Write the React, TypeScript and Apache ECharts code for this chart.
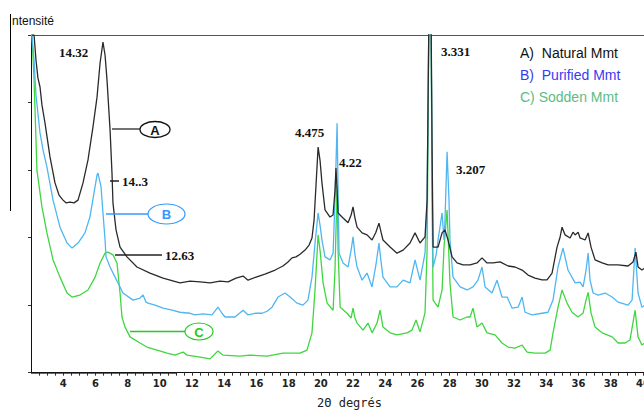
import React, { useEffect, useRef } from "react";
import * as echarts from "echarts";

// 2θ (degrees) vs. relative intensity for the three montmorillonite samples
const naturalMmt: [number, number][] = [
  [2.06, 100], [2.19, 100], [2.31, 92.6], [2.43, 87.3], [2.56, 84.6], [2.68, 79.3], [2.87, 73.9],
  [3.18, 63.9], [3.49, 56.2], [3.74, 52.6], [3.99, 51.1], [4.17, 50.3], [4.42, 50.5], [4.67, 50.3],
  [4.92, 51.1], [5.23, 56.2], [5.54, 63.0], [5.85, 72.8], [6.1, 81.6], [6.29, 91.7], [6.47, 97.9],
  [6.6, 94.0], [6.72, 86.7], [6.91, 71.9], [7.03, 59.1], [7.09, 50.3], [7.28, 42.3], [7.53, 37.2],
  [7.96, 34.3], [8.58, 31.3], [9.39, 29.5], [10.2, 28.0], [11.25, 26.6], [11.88, 27.1], [12.5, 26.9],
  [13.12, 26.6], [13.74, 27.1], [14.24, 26.9], [14.73, 28.0], [15.17, 28.6], [15.48, 27.4],
  [15.98, 28.3], [16.53, 29.2], [17.16, 30.4], [17.65, 31.6], [17.96, 32.8], [18.21, 34.0],
  [18.46, 34.3], [18.71, 35.1], [19.02, 36.3], [19.27, 37.8], [19.45, 39.9], [19.58, 45.2],
  [19.7, 55.5], [19.83, 66.8], [19.95, 62.9], [20.07, 56.2], [20.26, 48.2], [20.57, 46.1],
  [20.76, 46.7], [20.88, 54.0], [20.94, 60.6], [21.01, 54.0], [21.07, 47.3], [21.38, 45.8],
  [21.69, 44.4], [21.88, 46.7], [22.0, 49.1], [22.12, 45.8], [22.25, 43.1], [22.56, 41.4],
  [22.87, 40.8], [23.18, 39.3], [23.42, 41.6], [23.61, 44.3], [23.74, 41.6], [23.86, 39.3],
  [24.3, 37.2], [24.73, 35.4], [25.11, 36.3], [25.54, 38.4], [25.85, 41.4], [26.16, 38.4],
  [26.47, 40.2], [26.6, 51.1], [26.72, 110], [26.84, 110], [26.91, 65.9], [26.97, 37.2],
  [27.28, 37.2], [27.53, 41.4], [27.71, 42.3], [27.9, 39.3], [28.15, 34.3], [28.46, 32.5],
  [28.83, 31.9], [29.27, 31.9], [29.7, 32.5], [30.01, 34.0], [30.32, 32.5], [30.7, 32.5],
  [31.13, 32.8], [31.63, 31.6], [32.06, 31.3], [32.5, 30.4], [32.87, 28.9], [33.3, 28.0],
  [33.74, 27.5], [34.05, 27.5], [34.36, 29.5], [34.67, 37.2], [34.86, 40.2], [34.98, 43.1],
  [35.17, 40.8], [35.48, 39.9], [35.66, 41.6], [35.79, 40.8], [35.98, 41.6], [36.1, 39.9],
  [36.41, 39.3], [36.6, 41.4], [36.78, 37.2], [37.03, 33.4], [37.47, 32.5], [37.84, 31.9],
  [38.46, 31.9], [39.08, 31.6], [39.39, 32.8], [39.57, 35.7], [39.7, 31.3], [39.94, 30.4],
  [40.12, 31.0],
];

const purifiedMmt: [number, number][] = [
  [2.06, 100], [2.19, 92.6], [2.31, 82.2], [2.56, 71.0], [2.75, 65.9], [2.99, 60.9], [3.37, 51.1],
  [3.8, 43.1], [4.24, 38.4], [4.55, 36.9], [4.92, 38.4], [5.35, 41.4], [5.66, 46.1], [5.91, 53.2],
  [6.1, 58.5], [6.16, 59.1], [6.35, 55.0], [6.47, 47.3], [6.6, 39.3], [6.66, 34.3], [6.91, 31.3],
  [7.22, 28.3], [7.53, 25.4], [7.71, 23.6], [8.34, 21.5], [8.77, 22.1], [8.96, 23.0], [9.14, 20.9],
  [9.27, 20.6], [9.7, 20.0], [10.2, 19.1], [10.76, 18.5], [11.25, 17.9], [11.88, 17.6],
  [12.19, 17.1], [12.68, 17.4], [13.24, 17.1], [13.61, 19.4], [13.86, 17.6], [14.05, 16.5],
  [14.67, 16.5], [15.17, 18.5], [15.48, 17.1], [15.91, 17.6], [16.35, 17.6], [16.66, 18.2],
  [16.97, 19.4], [17.34, 22.4], [17.78, 23.6], [18.09, 22.4], [18.52, 20.6], [18.89, 20.0],
  [19.2, 21.5], [19.45, 28.3], [19.64, 38.4], [19.83, 47.3], [19.95, 43.7], [20.07, 39.3],
  [20.26, 34.3], [20.57, 33.4], [20.76, 35.4], [20.88, 51.1], [21.01, 73.9], [21.07, 54.0],
  [21.13, 35.4], [21.38, 32.5], [21.69, 31.3], [21.88, 36.3], [22.0, 40.2], [22.12, 34.9],
  [22.25, 31.3], [22.56, 27.4], [22.87, 29.5], [23.18, 25.4], [23.42, 31.9], [23.61, 38.4],
  [23.74, 32.8], [23.86, 28.3], [24.3, 25.4], [24.73, 25.4], [25.11, 27.4], [25.54, 26.6],
  [25.85, 33.4], [26.16, 27.4], [26.47, 35.4], [26.6, 51.1], [26.72, 110], [26.84, 110],
  [26.91, 57.0], [26.97, 31.3], [27.16, 34.9], [27.28, 39.3], [27.53, 47.3], [27.65, 39.3],
  [27.71, 45.2], [27.84, 65.4], [27.96, 51.1], [28.02, 39.3], [28.21, 28.3], [28.65, 25.4],
  [29.08, 24.5], [29.45, 25.4], [29.76, 27.4], [30.01, 31.3], [30.2, 25.4], [30.63, 23.6],
  [30.94, 27.4], [31.25, 22.4], [31.57, 22.4], [31.88, 19.1], [32.25, 19.4], [32.5, 22.4],
  [32.68, 17.9], [33.12, 17.1], [33.74, 17.6], [34.11, 17.9], [34.42, 21.5], [34.73, 31.3],
  [35.04, 36.9], [35.35, 30.4], [35.79, 26.6], [36.1, 26.8], [36.29, 25.4], [36.47, 30.4],
  [36.6, 35.4], [36.72, 27.4], [36.91, 23.6], [37.22, 23.0], [37.65, 23.6], [38.09, 22.4],
  [38.46, 20.9], [39.08, 20.0], [39.33, 21.5], [39.52, 36.9], [39.7, 23.6], [39.94, 19.4],
  [40.12, 20.0],
];

const soddenMmt: [number, number][] = [
  [2.06, 100], [2.19, 86.7], [2.31, 68.9], [2.37, 59.9], [2.68, 49.1], [2.99, 41.4], [3.37, 33.4],
  [3.8, 28.3], [4.24, 23.6], [4.55, 22.4], [5.04, 23.0], [5.54, 24.5], [5.98, 28.3], [6.29, 32.5],
  [6.6, 35.4], [6.78, 35.7], [7.09, 34.9], [7.34, 32.5], [7.53, 23.6], [7.65, 16.5], [7.84, 13.5],
  [8.15, 10.6], [8.77, 8.8], [9.2, 7.6], [9.83, 6.7], [10.45, 5.8], [10.94, 5.2], [11.44, 6.1],
  [11.69, 5.2], [12.5, 4.6], [13.12, 4.1], [13.61, 6.4], [13.93, 5.2], [14.98, 4.9], [15.6, 5.2],
  [16.66, 4.9], [17.65, 5.8], [18.71, 5.8], [19.14, 6.7], [19.45, 11.8], [19.64, 24.5],
  [19.83, 40.8], [19.95, 36.3], [20.14, 26.6], [20.39, 20.6], [20.76, 18.5], [20.88, 30.4],
  [21.01, 55.5], [21.07, 36.3], [21.2, 19.4], [21.63, 17.6], [21.88, 16.2], [22.0, 19.1],
  [22.12, 16.2], [22.25, 14.7], [22.62, 12.6], [22.93, 14.7], [23.18, 11.8], [23.49, 14.7],
  [23.68, 18.5], [23.86, 13.5], [24.3, 11.8], [24.73, 11.2], [25.35, 11.8], [25.66, 12.6],
  [25.91, 15.6], [26.16, 12.1], [26.47, 17.7], [26.6, 36.3], [26.72, 110], [26.84, 110],
  [26.91, 51.1], [26.97, 21.5], [27.1, 20.6], [27.28, 19.4], [27.53, 24.5], [27.65, 37.2],
  [27.84, 48.2], [28.02, 26.6], [28.21, 16.5], [28.65, 15.6], [29.08, 16.5], [29.27, 16.5],
  [29.45, 19.1], [29.7, 13.5], [30.01, 14.7], [30.32, 11.8], [30.82, 11.2], [31.25, 8.8],
  [31.63, 7.6], [32.06, 7.3], [32.5, 8.2], [32.81, 6.1], [33.3, 5.8], [33.93, 5.8], [34.24, 6.7],
  [34.42, 11.8], [34.73, 19.4], [34.98, 24.5], [35.29, 20.6], [35.6, 17.9], [35.98, 16.5],
  [36.29, 17.7], [36.47, 21.5], [36.6, 23.8], [36.78, 17.7], [37.03, 13.5], [37.47, 11.8],
  [38.09, 10.6], [38.46, 8.8], [38.9, 8.8], [39.2, 9.7], [39.52, 18.5], [39.7, 10.6],
  [39.94, 8.2], [40.12, 8.8],
];

const seriesNames = ["A)  Natural Mmt", "B)  Purified Mmt", "C) Sodden Mmt"];
const seriesColors = ["#2a2a2a", "#4fb6f2", "#3fd63f"];
const legendColors = ["#111111", "#3a3af0", "#5cbd84"];

const xTickLabels = [4, 6, 8, 10, 12, 14, 16, 18, 20, 22, 24, 26, 28, 30, 32, 34, 36, 38, 40];
const xMinorTicks: number[] = [];
for (let v = 2.5; v <= 40; v += 0.5) xMinorTicks.push(v);

const dSpacingLabels = [
  { text: "14.32", x: 59, y: 52 },
  { text: "3.331", x: 441, y: 51 },
  { text: "4.475", x: 295, y: 132 },
  { text: "4.22", x: 339, y: 162 },
  { text: "3.207", x: 456, y: 169 },
  { text: "14..3", x: 122, y: 181 },
  { text: "12.63", x: 165, y: 255 },
];

export default function App() {
  const ref = useRef<HTMLDivElement>(null);

  useEffect(() => {
    if (!ref.current) return;
    const chart = echarts.init(ref.current, undefined, { renderer: "svg" });

    const serif = { fontFamily: "Liberation Serif", fontWeight: "bold" as const, fontSize: 13, fill: "#111" };

    const graphic: any[] = [
      // outer intensity axis with its caption
      { type: "line", shape: { x1: 10.5, y1: 14, x2: 10.5, y2: 211 }, style: { stroke: "#000", lineWidth: 1 } },
      {
        type: "text", x: 12, y: 21,
        style: { text: "ntensité", fontFamily: "Liberation Sans", fontSize: 12, fill: "#111", textVerticalAlign: "middle" },
      },
      // heavier start of the 2θ axis
      { type: "line", shape: { x1: 31, y1: 373.2, x2: 177, y2: 373.2 }, style: { stroke: "#222", lineWidth: 1 } },
      {
        type: "text", x: 317, y: 403,
        style: { text: "2Θ degrés", fontFamily: "DejaVu Sans Mono", fontSize: 12, fill: "#222", textVerticalAlign: "middle" },
      },
      // callout A
      { type: "line", shape: { x1: 112, y1: 129, x2: 140, y2: 129 }, style: { stroke: "#444", lineWidth: 1.5 } },
      { type: "ellipse", shape: { cx: 155, cy: 129.5, rx: 15, ry: 8 }, style: { fill: "#fff", stroke: "#111", lineWidth: 1.3 } },
      {
        type: "text", x: 155, y: 130,
        style: { text: "A", fontFamily: "Liberation Sans", fontWeight: "bold", fontSize: 13, fill: "#111", textAlign: "center", textVerticalAlign: "middle" },
      },
      // tick for 14..3
      { type: "line", shape: { x1: 110, y1: 181, x2: 119, y2: 181 }, style: { stroke: "#222", lineWidth: 1.5 } },
      // callout B
      { type: "line", shape: { x1: 106, y1: 214, x2: 148, y2: 214 }, style: { stroke: "#3399ff", lineWidth: 1.3 } },
      { type: "ellipse", shape: { cx: 166.5, cy: 214, rx: 18.5, ry: 10 }, style: { fill: "#fff", stroke: "#3399ff", lineWidth: 1.2 } },
      {
        type: "text", x: 166.5, y: 214.5,
        style: { text: "B", fontFamily: "Liberation Sans", fontWeight: "bold", fontSize: 13, fill: "#3399ff", textAlign: "center", textVerticalAlign: "middle" },
      },
      // tick for 12.63
      { type: "line", shape: { x1: 115, y1: 255, x2: 162, y2: 255 }, style: { stroke: "#222", lineWidth: 1.5 } },
      // callout C
      { type: "line", shape: { x1: 130, y1: 331.5, x2: 185, y2: 331.5 }, style: { stroke: "#22cc22", lineWidth: 1.3 } },
      { type: "ellipse", shape: { cx: 199, cy: 331.5, rx: 14, ry: 8.5 }, style: { fill: "#fff", stroke: "#22cc22", lineWidth: 1.2 } },
      {
        type: "text", x: 199, y: 332,
        style: { text: "C", fontFamily: "Liberation Sans", fontWeight: "bold", fontSize: 13, fill: "#22cc22", textAlign: "center", textVerticalAlign: "middle" },
      },
      ...dSpacingLabels.map((l) => ({
        type: "text", x: l.x, y: l.y,
        style: { ...serif, text: l.text, textVerticalAlign: "middle" },
      })),
      ...seriesNames.map((name, i) => ({
        type: "text", x: 520, y: 53 + i * 22,
        style: { text: name, fontFamily: "Liberation Sans", fontSize: 14, fill: legendColors[i], textVerticalAlign: "middle" },
      })),
    ].map((g) => ({ z: 10, ...g }));

    chart.setOption({
      animation: false,
      backgroundColor: "#fff",
      grid: { left: 31, top: 35, right: 0, bottom: 37.3, containLabel: false, outerBoundsMode: "none" },
      xAxis: [
        {
          type: "value", min: 2, max: 40.07, position: "bottom",
          axisLine: { show: true, lineStyle: { color: "#111", width: 1 } },
          axisTick: { show: true, customValues: xMinorTicks, length: 3, lineStyle: { color: "#333" } },
          axisLabel: {
            customValues: xTickLabels, margin: 6, fontSize: 10, fontWeight: "bold",
            fontFamily: "DejaVu Sans", color: "#222", formatter: (v: number) => String(Math.round(v)),
          },
          splitLine: { show: false },
        },
        {
          type: "value", min: 2, max: 40.07, position: "top",
          axisLine: { show: true, lineStyle: { color: "#555", width: 1 } },
          axisTick: { show: false }, axisLabel: { show: false }, splitLine: { show: false },
        },
      ],
      yAxis: {
        type: "value", min: 0, max: 100, interval: 20,
        axisLine: { show: true, lineStyle: { color: "#111", width: 1 } },
        axisTick: { show: true, length: 3, lineStyle: { color: "#333" } },
        axisLabel: { show: false },
        splitLine: { show: false },
      },
      series: [
        { name: seriesNames[2], type: "line", data: soddenMmt, color: seriesColors[2] },
        { name: seriesNames[1], type: "line", data: purifiedMmt, color: seriesColors[1] },
        { name: seriesNames[0], type: "line", data: naturalMmt, color: seriesColors[0] },
      ].map((s) => ({
        ...s, xAxisIndex: 0, showSymbol: false, clip: true, smooth: false,
        lineStyle: { width: 1.3, color: s.color }, emphasis: { disabled: true },
      })),
      graphic,
    });

    return () => chart.dispose();
  }, []);

  return (
    <div
      ref={ref}
      style={{ position: "absolute", left: 0, top: 0, width: 644, height: 410, background: "#fff" }}
    />
  );
}
